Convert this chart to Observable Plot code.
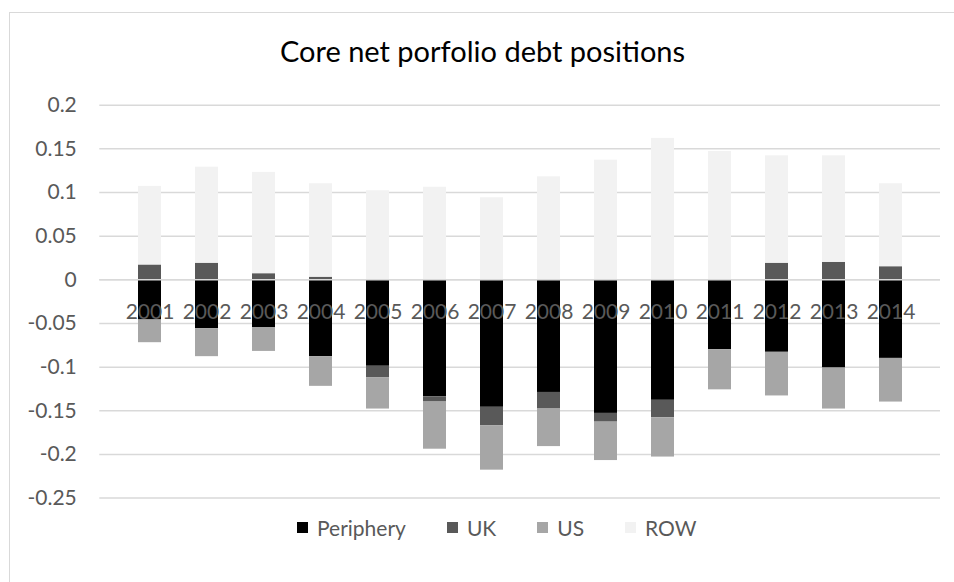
<!DOCTYPE html>
<html>
<head>
<meta charset="utf-8">
<script src="https://cdn.jsdelivr.net/npm/d3@7"></script>
<script src="https://cdn.jsdelivr.net/npm/@observablehq/plot@0.6"></script>
<style>
  html, body { margin: 0; padding: 0; background: #fff; overflow: hidden; width: 954px; height: 582px; }
  #wrap { position: relative; width: 954px; height: 582px; overflow: hidden; font-family: Lato, sans-serif; }
  #border { position: absolute; left: 9px; top: 12px; width: 2000px; height: 2000px; border: 1px solid #d9d9d9; box-sizing: border-box; }
  #title { position: absolute; left: 0; width: 965px; top: 34px; text-align: center; font-size: 29px; line-height: 1.2; color: #000; white-space: nowrap; }
  #chart { position: absolute; left: 0; top: 0; }
  #legend { position: absolute; left: 297px; top: 515px; }
  .lg-swatches { margin: 0 !important; font-family: Lato, sans-serif !important; font-size: 21px !important; color: #595959; }
  .lg-swatches-wrap { min-height: 0 !important; line-height: 1.2; }
  .lg-swatches-wrap .lg-swatch { margin-right: 41px !important; }
  .lg-swatch > svg { margin-right: 9px !important; }
</style>
</head>
<body>
<div id="wrap">
  <div id="border"></div>
  <div id="title">Core net porfolio debt positions</div>
  <div id="chart"></div>
  <div id="legend"></div>
</div>
<script>
const years = ["2001","2002","2003","2004","2005","2006","2007","2008","2009","2010","2011","2012","2013","2014"];
const seriesNames = ["Periphery", "UK", "US", "ROW"];
const seriesColors = ["#000000", "#595959", "#a6a6a6", "#f2f2f2"];
const periphery = [-0.046,-0.056,-0.055,-0.088,-0.099,-0.134,-0.146,-0.129,-0.153,-0.138,-0.080,-0.083,-0.101,-0.090];
const uk        = [ 0.017, 0.019, 0.007, 0.003,-0.013,-0.006,-0.021,-0.019,-0.010,-0.020, 0.000, 0.019, 0.020, 0.015];
const us        = [-0.026,-0.032,-0.027,-0.034,-0.036,-0.054,-0.051,-0.043,-0.044,-0.045,-0.046,-0.050,-0.047,-0.050];
const row       = [ 0.090, 0.110, 0.116, 0.107, 0.102, 0.106, 0.094, 0.118, 0.137, 0.162, 0.147, 0.123, 0.122, 0.095];
const yTicks = [0.2, 0.15, 0.1, 0.05, 0, -0.05, -0.1, -0.15, -0.2, -0.25];

const seriesValues = [periphery, uk, us, row];
const data = [];
seriesNames.forEach((s, i) => {
  years.forEach((y, j) => data.push({year: y, series: s, value: seriesValues[i][j]}));
});

const H = 582;
const top0 = 104.7, bottom0 = 497.6;

const chart = Plot.plot({
  width: 954,
  height: H,
  marginTop: top0,
  marginBottom: H - bottom0,
  marginLeft: 99.3,
  marginRight: 14,
  style: { fontFamily: "Lato, sans-serif", fontSize: "21px", color: "#595959", background: "transparent" },
  x: { domain: years, padding: 0.6, axis: null },
  y: { domain: [-0.25, 0.2], ticks: yTicks, tickFormat: d => String(d), tickSize: 0, tickPadding: 23, label: null },
  color: { domain: seriesNames, range: seriesColors },
  marks: [
    Plot.ruleY(yTicks, { stroke: "#d9d9d9", strokeWidth: 1.5 }),
    Plot.axisY({ ticks: yTicks, tickFormat: d => String(d), tickSize: 0, tickPadding: 23, label: null, fill: "#595959", fontSize: 21 }),
    Plot.barY(data, { x: "year", y: "value", fill: "series", order: seriesNames }),
    Plot.ruleY([0], { stroke: "#d9d9d9", strokeWidth: 1.5 }),
    Plot.text(years, { x: d => d, y: 0, dy: 32, text: d => d, fill: "#595959", fontSize: 21, textAnchor: "middle", lineAnchor: "middle" })
  ]
});
document.getElementById("chart").appendChild(chart);

const legend = Plot.legend({
  color: { domain: seriesNames, range: seriesColors },
  legend: "swatches",
  swatchSize: 11,
  className: "lg"
});
document.getElementById("legend").appendChild(legend);
</script>
</body>
</html>
